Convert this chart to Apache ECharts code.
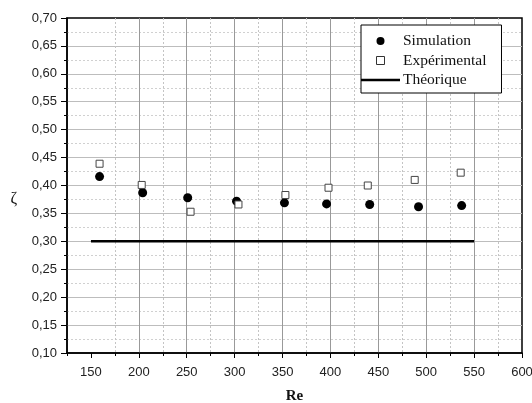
<!DOCTYPE html>
<html>
<head>
<meta charset="utf-8">
<script src="https://cdn.jsdelivr.net/npm/echarts@6/dist/echarts.min.js"></script>
<style>
  html, body { margin: 0; padding: 0; background: #fff; }
  #chart { width: 532px; height: 403px; }
</style>
</head>
<body>
<div id="chart"></div>
<script>
// données
const reSimulation = [159, 204, 251, 302, 352, 396, 441, 492, 537]
const zetaSimulation = [0.416, 0.387, 0.378, 0.372, 0.369, 0.367, 0.366, 0.362, 0.364]
const reExperimental = [159, 203, 254, 304, 353, 398, 439, 488, 536]
const zetaExperimental = [0.439, 0.401, 0.353, 0.366, 0.383, 0.396, 0.400, 0.410, 0.423]
const reTheorique = [150, 550]
const zetaTheorique = [0.30, 0.30]
const reTicks = [150, 200, 250, 300, 350, 400, 450, 500, 550, 600]

const pairs = (xs, ys) => xs.map((x, i) => [x, ys[i]])

const chart = echarts.init(document.getElementById('chart'), null, { renderer: 'canvas' })

const tickFont = { fontFamily: 'Liberation Sans, Arial, sans-serif', fontSize: 13, color: '#222' }
const serif = 'Liberation Serif, Times New Roman, serif'

const option = {
  backgroundColor: '#fff',
  animation: false,
  grid: {
    left: 67, right: 10, top: 18, bottom: 50,
    outerBoundsMode: 'none', // garder la zone de tracé fixe
    show: true, borderColor: '#000', borderWidth: 1.5, backgroundColor: 'transparent'
  },
  legend: {
    orient: 'vertical',
    left: 361,
    top: 25,
    padding: [8, 15, 5, 0],
    itemWidth: 39,
    itemHeight: 8,
    itemGap: 3.5,
    symbolKeepAspect: true,
    backgroundColor: '#fff',
    borderColor: '#000',
    borderWidth: 1,
    textStyle: { fontFamily: serif, fontSize: 15.5, color: '#111', lineHeight: 16, padding: [0, 0, 0, -2] },
    data: [
      { name: 'Simulation', icon: 'circle', itemStyle: { color: '#000' } },
      // carré creux, gardé carré par symbolKeepAspect
      { name: 'Expérimental', icon: 'path://M0,0 L10,0 L10,10 L0,10 Z', itemStyle: { color: '#fff', borderColor: '#333', borderWidth: 1 } },
      // trait plein sans marqueur
      { name: 'Théorique', icon: 'path://M0,0 L40,0 L40,2.5 L0,2.5 Z', itemStyle: { color: '#000', borderWidth: 0 } }
    ]
  },
  xAxis: [
    {
      // axe principal : graduations majeures
      type: 'value',
      position: 'bottom',
      min: 125,
      max: 600,
      interval: 50,
      name: 'Re',
      nameLocation: 'middle',
      nameGap: 36,
      nameTextStyle: { fontFamily: serif, fontSize: 15, fontWeight: 'bold', color: '#111' },
      axisLine: { show: true, lineStyle: { color: '#000', width: 1.5 } },
      axisTick: { show: true, inside: false, length: 5, customValues: reTicks, lineStyle: { color: '#000' } },
      axisLabel: { ...tickFont, margin: 13, customValues: reTicks },
      splitLine: { show: true, showMinLine: false, showMaxLine: false, lineStyle: { color: '#999', width: 1 } }
    },
    {
      // axe secondaire : graduations mineures et grille pointillée
      type: 'value',
      position: 'bottom',
      min: 125,
      max: 600,
      interval: 50,
      axisLine: { show: false },
      axisTick: { show: true, inside: false, length: 3, lineStyle: { color: '#000' } },
      axisLabel: { show: false },
      splitLine: { show: true, showMinLine: false, showMaxLine: false, lineStyle: { color: '#c4c4c4', type: [2, 2], width: 1 } }
    }
  ],
  yAxis: {
    type: 'value',
    min: 0.1,
    max: 0.7,
    interval: 0.05,
    name: 'ζ',
    nameLocation: 'middle',
    nameRotate: 0,
    nameGap: 50,
    nameTextStyle: { fontFamily: serif, fontSize: 16, color: '#111', verticalAlign: 'top', lineHeight: 26 },
    axisLine: { show: true, lineStyle: { color: '#000', width: 1.5 } },
    axisTick: { show: true, inside: false, length: 6, lineStyle: { color: '#000' } },
    minorTick: { show: true, splitNumber: 2, length: 3, lineStyle: { color: '#000' } },
    axisLabel: { ...tickFont, margin: 10, formatter: v => v.toFixed(2).replace('.', ',') },
    splitLine: { show: true, showMinLine: false, showMaxLine: false, lineStyle: { color: '#bdbdbd', width: 1 } },
    minorSplitLine: { show: true, lineStyle: { color: '#d0d0d0', type: [2, 2], width: 1 } }
  },
  series: [
    {
      name: 'Théorique',
      type: 'line',
      xAxisIndex: 0,
      data: pairs(reTheorique, zetaTheorique),
      symbol: 'none',
      lineStyle: { color: '#000', width: 2.5 },
      itemStyle: { color: '#000' }
    },
    {
      name: 'Simulation',
      type: 'scatter',
      xAxisIndex: 0,
      data: pairs(reSimulation, zetaSimulation),
      symbol: 'circle',
      symbolSize: 9,
      itemStyle: { color: '#000', opacity: 1 }
    },
    {
      name: 'Expérimental',
      type: 'scatter',
      xAxisIndex: 0,
      data: pairs(reExperimental, zetaExperimental),
      symbol: 'rect',
      symbolSize: 7,
      itemStyle: { color: '#fff', borderColor: '#444', borderWidth: 1, opacity: 1 }
    }
  ]
}

chart.setOption(option)
</script>
</body>
</html>
